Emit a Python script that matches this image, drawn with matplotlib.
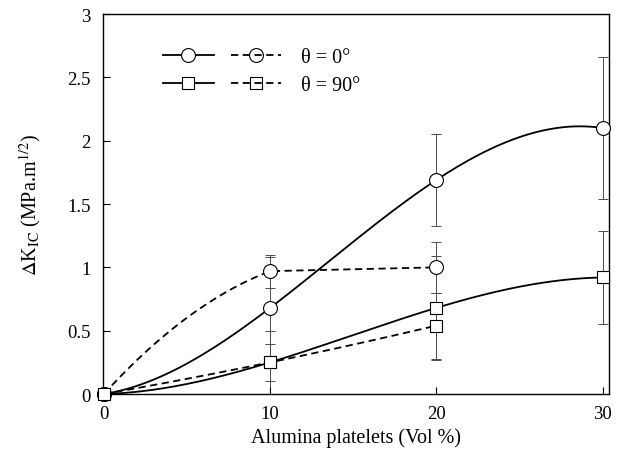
import matplotlib
matplotlib.use('Agg')
import matplotlib.pyplot as plt
import numpy as np

plt.rcParams['font.family'] = ['Liberation Serif', 'DejaVu Serif']
plt.rcParams['mathtext.fontset'] = 'stix'

# data
vol = [0, 10, 20, 30]
k0_solid = [0, 0.68, 1.69, 2.10]
k0_solid_err = [0, 0.40, 0.36, 0.56]
k90_solid = [0, 0.25, 0.68, 0.92]
k90_solid_err = [0, 0.25, 0.41, 0.37]

vol_d = [0, 10, 20]
k0_dash = [0, 0.97, 1.00]
k0_dash_err = [0, 0.13, 0.20]
k90_dash = [0, 0.25, 0.54]
k90_dash_err = [0, 0.145, 0.26]

fig = plt.figure(figsize=(6.21, 4.6), dpi=100)
ax = fig.add_axes([0.166, 0.1413, 0.815, 0.826])

lw = 1.3
dash = (0, (4, 2.5))
eb = dict(fmt='none', ecolor='0.3', elinewidth=0.7, capsize=3.5, capthick=0.7, zorder=1)

# error bars
ax.errorbar(vol, k0_solid, yerr=k0_solid_err, **eb)
ax.errorbar(vol, k90_solid, yerr=k90_solid_err, **eb)
ax.errorbar(vol_d, k0_dash, yerr=k0_dash_err, **eb)
ax.errorbar(vol_d, k90_dash, yerr=k90_dash_err, **eb)

# smooth curves through the points
xs = np.linspace(0, 30, 200)
p = np.polyfit(vol, k0_solid, 3)
ax.plot(xs, np.polyval(p, xs), 'k-', lw=lw, zorder=2)
p = np.polyfit(vol, k90_solid, 3)
ax.plot(xs, np.polyval(p, xs), 'k-', lw=lw, zorder=2)

xd = np.linspace(0, vol_d[1], 100)
p = np.polyfit(vol_d, k0_dash, 2)
ax.plot(np.r_[xd, vol_d[2]], np.r_[np.polyval(p, xd), k0_dash[2]], color='k', ls=dash, lw=lw, zorder=2)
xd = np.linspace(0, 20, 150)
p = np.polyfit(vol_d, k90_dash, 2)
ax.plot(xd, np.polyval(p, xd), color='k', ls=dash, lw=lw, zorder=2)

# markers
ms = dict(linestyle='none', markeredgecolor='k', markeredgewidth=0.8, zorder=3, clip_on=False)
ax.plot(vol, k0_solid, marker='o', markersize=10, markerfacecolor='white', **ms)
ax.plot(vol, k90_solid, marker='s', markersize=9, markerfacecolor='white', **ms)
ax.plot(vol_d, k0_dash, marker='o', markersize=10, markerfacecolor='white', **ms)
ax.plot(vol_d, k90_dash, marker='s', markersize=9, markerfacecolor='white', **ms)

# legend
h1, = ax.plot([], [], 'k-', lw=lw, marker='o', ms=10, mfc='white', mec='k', mew=0.8)
h2, = ax.plot([], [], 'k-', lw=lw, marker='s', ms=9, mfc='white', mec='k', mew=0.8)
h3, = ax.plot([], [], color='k', ls=dash, lw=lw, marker='o', ms=10, mfc='none', mec='k', mew=0.8)
h4, = ax.plot([], [], color='k', ls=dash, lw=lw, marker='s', ms=9, mfc='none', mec='k', mew=0.8)
ax.legend([h1, h2, h3, h4], ['', '', 'θ = 0°', 'θ = 90°'],
          ncol=2, loc='upper left', bbox_to_anchor=(0.083, 0.958), frameon=False,
          fontsize=14.5, handlelength=2.5, handletextpad=1.0, columnspacing=-0.15,
          labelspacing=0.45)

ax.set_xlim(-0.05, 30.4)
ax.set_ylim(0, 3)
ax.set_xticks([0, 10, 20, 30])
ax.set_yticks([0, 0.5, 1, 1.5, 2, 2.5, 3])
ax.set_yticklabels(['0', '0.5', '1', '1.5', '2', '2.5', '3'])
ax.tick_params(direction='in', length=5, width=0.8, labelsize=13.5)
ax.tick_params(axis='y', pad=9)
ax.tick_params(axis='x', pad=8)
for s in ax.spines.values():
    s.set_linewidth(1.0)

ax.set_xlabel('Alumina platelets (Vol %)', fontsize=14.5, labelpad=4)
ax.set_ylabel(r'$\Delta$K$_{\rm IC}$ (MPa.m$^{1/2}$)', fontsize=14.5)
ax.yaxis.set_label_coords(-0.118, 0.5)

fig.savefig('out.png', dpi=100)
